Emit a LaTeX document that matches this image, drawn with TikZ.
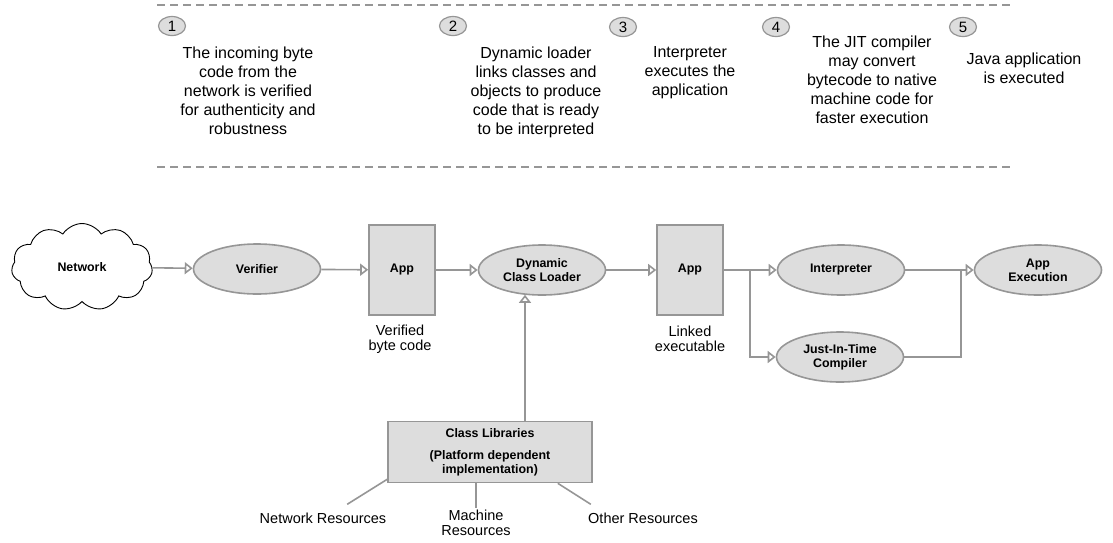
\documentclass[tikz,border=0pt]{standalone}
\usepackage{fontspec}
\setmainfont{Liberation Sans}
\usetikzlibrary{arrows.meta,shapes.geometric,shapes.symbols}
\definecolor{linegray}{RGB}{150,150,150}
\definecolor{boxgray}{RGB}{221,221,221}

\begin{document}
\begin{tikzpicture}[x=1pt, y=-1pt,
	flow/.style={draw=linegray, line width=1.6pt},
	tip/.style={-{Triangle[open, length=8pt, width=12pt]}},
	proc/.style={ellipse, draw=linegray, fill=boxgray, line width=1.6pt, minimum width=127pt, minimum height=50pt, inner sep=0pt, align=center, font=\fontsize{12.4}{14}\selectfont\bfseries},
	appbox/.style={rectangle, draw=linegray, fill=boxgray, line width=1.6pt, minimum width=66pt, minimum height=90pt, font=\fontsize{12.4}{14}\selectfont\bfseries},
	libbox/.style={rectangle, draw=linegray, fill=boxgray, line width=1.6pt, minimum width=204pt, minimum height=61pt, inner sep=0pt, align=center, font=\fontsize{12.4}{14}\selectfont\bfseries},
	stepnum/.style={ellipse, draw=linegray, fill=boxgray, line width=1.2pt, minimum width=27pt, minimum height=19pt, inner sep=0pt, font=\fontsize{15}{15}\selectfont},
	note/.style={anchor=north, inner sep=0pt, align=center, font=\fontsize{16}{19}\selectfont},
	caption/.style={align=center, inner sep=2pt, font=\fontsize{14.5}{14.5}\selectfont},
	dashline/.style={draw=linegray, line width=1.3pt, dash pattern=on 8pt off 5pt}]
	\useasboundingbox (0,0) rectangle (1113,542);

	\draw [dashline] (157,5) -- (1013,5);
	\draw [dashline] (157,167) -- (1013,167);

	\node [stepnum] (n1) at (172,26) {1};
	\node [stepnum] (n2) at (453,26) {2};
	\node [stepnum] (n3) at (623,27) {3};
	\node [stepnum] (n4) at (776,27) {4};
	\node [stepnum] (n5) at (963,27) {5};
	\node [note] (t1) at (248,47) {The incoming byte\\code from the\\network is verified\\for authenticity and\\robustness};
	\node [note] (t2) at (536,47) {Dynamic loader\\links classes and\\objects to produce\\code that is ready\\to be interpreted};
	\node [note] (t3) at (690,46) {Interpreter\\executes the\\application};
	\node [note] (t4) at (872,36) {The JIT compiler\\may convert\\bytecode to native\\machine code for\\faster execution};
	\node [note] (t5) at (1024,53) {Java application\\is executed};

	\node [cloud, draw, line width=0.9pt, fill=white, cloud puffs=11, cloud puff arc=115, aspect=1.6, minimum width=141pt, minimum height=87pt, inner sep=0pt, font=\fontsize{12.4}{14}\selectfont\bfseries] (net) at (82,267) {Network};
	\node [proc] (ver) at (257,269) {Verifier};
	\node [appbox] (app1) at (402,270) {App};
	\node [caption] (vbc) at (400,339) {Verified\\byte code};
	\node [proc] (dcl) at (542,270) {Dynamic\\Class Loader};
	\node [appbox] (app2) at (690,270) {App};
	\node [caption] (lex) at (690,339) {Linked\\executable};
	\node [proc] (int) at (841,270) {Interpreter};
	\node [proc] (jit) at (840,357) {Just-In-Time\\Compiler};
	\node [proc] (exe) at (1038,270) {App\\Execution};
	\node [libbox] (lib) at (490,452) {Class Libraries\\[8pt](Platform dependent\\implementation)};
	\node [caption] (nres) at (323,518) {Network Resources};
	\node [caption, anchor=north] (mres) at (476,508) {Machine\\Resources};
	\node [caption] (ores) at (643,518) {Other Resources};

	\coordinate (split) at (750,270);
	\coordinate (join) at (961,270);
	\coordinate (dclin) at ([xshift=-17pt, yshift=1pt]dcl.south);

	\draw [flow, tip] (net) -- (ver);
	\draw [flow, tip] (ver) -- (app1);
	\draw [flow, tip] (app1) -- (dcl);
	\draw [flow, tip] (dcl) -- (app2);
	\draw [flow, tip] (app2) -- (int);
	\draw [flow, tip] (split) |- (jit);
	\draw [flow, tip] (int) -- (exe);
	\draw [flow] (jit) -| (join);
	\draw [flow, tip] (dclin |- lib.north) -- (dclin);
	\draw [flow] ([yshift=4pt]lib.south west) -- ++(-40,25);
	\draw [flow] (mres.north |- lib.south) -- (mres.north);
	\draw [flow] ([xshift=-35pt]lib.south east) -- ++(33,21);
\end{tikzpicture}
\end{document}
